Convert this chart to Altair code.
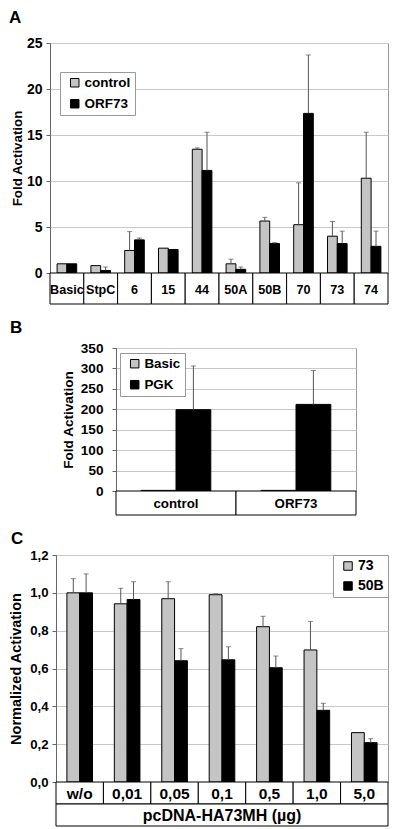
import altair as alt
import pandas as pd

FONT = "Liberation Sans"
GRAY = "#c4c4c4"

# ---------------- Panel A data ----------------
a_cats = ["Basic", "StpC", "6", "15", "44", "50A", "50B", "70", "73", "74"]
a_series = ["control", "ORF73"]
a_control = [1.0, 0.8, 2.45, 2.7, 13.45, 1.0, 5.65, 5.25, 4.0, 10.3]
a_control_err = [0, 0, 2.05, 0, 0.15, 0.5, 0.4, 4.55, 1.6, 5.0]
a_orf73 = [1.0, 0.27, 3.6, 2.55, 11.15, 0.4, 3.2, 17.35, 3.2, 2.9]
a_orf73_err = [0, 0.38, 0.2, 0, 4.15, 0.25, 0.1, 6.35, 1.35, 1.65]
a_ticks = [0, 5, 10, 15, 20, 25]

# ---------------- Panel B data ----------------
b_cats = ["control", "ORF73"]
b_series = ["Basic", "PGK"]
b_basic = [1.5, 1.5]
b_basic_err = [0, 0]
b_pgk = [199, 212]
b_pgk_err = [107, 83]
b_ticks = [0, 50, 100, 150, 200, 250, 300, 350]

# ---------------- Panel C data ----------------
c_cats = ["w/o", "0,01", "0,05", "0,1", "0,5", "1,0", "5,0"]
c_series = ["73", "50B"]
c_73 = [1.0, 0.942, 0.969, 0.99, 0.821, 0.698, 0.261]
c_73_err = [0.075, 0.082, 0.09, 0.005, 0.055, 0.151, 0]
c_50b = [1.0, 0.965, 0.641, 0.646, 0.604, 0.379, 0.208]
c_50b_err = [0.10, 0.094, 0.064, 0.069, 0.062, 0.037, 0.021]
c_ticks = [0, 0.2, 0.4, 0.6, 0.8, 1.0, 1.2]
c_group_label = "pcDNA-HA73MH (µg)"


def long_df(cats, series, vals, errs):
    rows = []
    for s, v, e in zip(series, vals, errs):
        for c, vv, ee in zip(cats, v, e):
            rows.append({"cat": c, "series": s, "value": vv, "top": vv + ee, "err": ee})
    return pd.DataFrame(rows)


def plot_panel(df, cats, series, ymax, ticks, ytitle, width, height, bar_frac,
               tick_fs, title_fs, label_pad, extent, title_pad, legend_pos, legend_fs,
               panel_title, title_dx, title_offset, label_expr=None):
    step = width / len(cats)
    bw = bar_frac * step
    x = alt.X("cat:N", sort=cats,
              scale=alt.Scale(type="band", paddingInner=0, paddingOuter=0),
              axis=None)
    axis_kw = dict(values=ticks, title=ytitle, grid=True, gridColor="#c8c8c8",
                   domainColor="#666", tickColor="#666", tickSize=4,
                   labelFont=FONT, labelFontSize=tick_fs, labelFontWeight="bold",
                   labelColor="black", labelPadding=label_pad,
                   minExtent=extent, maxExtent=extent,
                   titleFont=FONT, titleFontSize=title_fs, titleFontWeight="bold",
                   titleColor="black", titlePadding=title_pad)
    if label_expr:
        axis_kw["labelExpr"] = label_expr
    yaxis = alt.Axis(**axis_kw)
    yscale = alt.Scale(domain=[0, ymax], nice=False, zero=True)
    leg_kw = dict(title=None, direction="vertical",
                  symbolType="square", symbolSize=72,
                  symbolStrokeColor="black", symbolStrokeWidth=1,
                  symbolOffset=4,
                  labelFont=FONT, labelFontSize=legend_fs,
                  labelFontWeight="bold", labelColor="black",
                  labelOffset=3, rowPadding=6, padding=4,
                  strokeColor="#999", fillColor="white")
    if legend_pos == "top-right":
        leg_kw.update(orient="top-right", offset=0)
    else:
        leg_kw.update(orient="none", legendX=legend_pos[0], legendY=legend_pos[1])
    legend = alt.Legend(**leg_kw)
    color = alt.Color("series:N", sort=series,
                      scale=alt.Scale(domain=series, range=[GRAY, "black"]),
                      legend=legend)
    layers = []
    for i, s in enumerate(series):
        off = (i - 0.5) * bw
        sub = alt.Chart(df).transform_filter(alt.datum.series == s)
        layers.append(sub.mark_bar(stroke="black", strokeWidth=1,
                                   width=alt.RelativeBandSize(bar_frac),
                                   xOffset=off).encode(
            x=x, y=alt.Y("value:Q", scale=yscale, axis=yaxis), color=color))
        errd = sub.transform_filter("datum.err > 0")
        layers.append(errd.mark_rule(color="#555", strokeWidth=1, xOffset=off).encode(
            x=x, y=alt.Y("value:Q", scale=yscale, axis=yaxis), y2=alt.Y2("top:Q")))
        layers.append(errd.mark_tick(color="#555", thickness=1, size=5, xOffset=off).encode(
            x=x, y=alt.Y("top:Q", scale=yscale, axis=yaxis)))
    return alt.layer(*layers).properties(
        width=width, height=height,
        view=alt.ViewBackground(stroke="#999"),
        title=alt.TitleParams(panel_title, anchor="start", frame="bounds",
                              font=FONT, fontSize=17, fontWeight="bold",
                              color="black", dx=title_dx, offset=title_offset))


def table(cats, width, h, extra, fs, second=None, h2=0, fs2=0):
    df = pd.DataFrame({"cat": cats})
    x = alt.X("cat:N", sort=cats,
              scale=alt.Scale(type="band", paddingInner=0, paddingOuter=0), axis=None)
    rect = alt.Chart(df).mark_rect(fill="white", stroke="black", strokeWidth=1).encode(
        x=x, y=alt.value(0), y2=alt.value(h))
    txt = alt.Chart(df).mark_text(font=FONT, fontSize=fs, fontWeight="bold",
                                  color="black", baseline="middle").encode(
        x=x, y=alt.value(h / 2 + 1), text="cat:N")
    layers = [rect, txt]
    if second:
        d2 = pd.DataFrame({"t": [second]})
        r2 = alt.Chart(d2).mark_rect(fill="white", stroke="black", strokeWidth=1).encode(
            x=alt.value(0), x2=alt.value(width),
            y=alt.value(h), y2=alt.value(h + h2))
        t2 = alt.Chart(d2).mark_text(font=FONT, fontSize=fs2, fontWeight="bold",
                                     color="black", baseline="middle").encode(
            x=alt.value(width / 2), y=alt.value(h + h2 / 2 + 1), text="t:N")
        layers += [r2, t2]
    return alt.layer(*layers).properties(
        width=width, height=h + h2 + extra,
        view=alt.ViewBackground(stroke="transparent"))


def spacer(w):
    return alt.Chart(pd.DataFrame({"a": [0]})).mark_point(opacity=0).properties(
        width=w, height=10, view=alt.ViewBackground(stroke="transparent"))


def row(w, p, t):
    st = alt.vconcat(p, t, spacing=0, bounds="flush").resolve_scale(
        color="independent").resolve_legend(color="independent")
    return alt.hconcat(spacer(w), st, spacing=0).resolve_scale(
        color="independent").resolve_legend(color="independent")


dfa = long_df(a_cats, a_series, [a_control, a_orf73], [a_control_err, a_orf73_err])
dfb = long_df(b_cats, b_series, [b_basic, b_pgk], [b_basic_err, b_pgk_err])
dfc = long_df(c_cats, c_series, [c_73, c_50b], [c_73_err, c_50b_err])

A_W, B_W, C_W = 338, 240, 332

pa = plot_panel(dfa, a_cats, a_series, 25, a_ticks, "Fold Activation", A_W, 230, 0.29,
                14, 13.3, 4, 26, 0, (10, 29), 13.5, "A", -1, 9)
pb = plot_panel(dfb, b_cats, b_series, 350, b_ticks, "Fold Activation", B_W, 143, 0.29,
                13.6, 13.6, 9, 36, 5, (4, 5), 13.4, "B", -51, 4.5)
pc = plot_panel(dfc, c_cats, c_series, 1.2, c_ticks, "Normalized Activation", C_W, 227, 0.27,
                13.2, 14.5, 4, 27, 6, "top-right", 14, "C", 3, 0,
                label_expr="replace(format(datum.value, '.1f'), '.', ',')")

ta = table(a_cats, A_W, 31, 0, 12.6)
tb = table(b_cats, B_W, 24, 0, 13.3)
tc = table(c_cats, C_W, 22, 0, 15.5, second=c_group_label, h2=22, fs2=16)

chart = alt.vconcat(row(2, pa, ta), row(5, pb, tb), row(1, pc, tc), spacing=13).resolve_scale(
    color="independent").resolve_legend(color="independent").properties(
    padding={"left": -8, "top": 0, "right": 0, "bottom": 0},
    background="white")

chart.save("out.html", embed_options={"renderer": "svg", "actions": False})
